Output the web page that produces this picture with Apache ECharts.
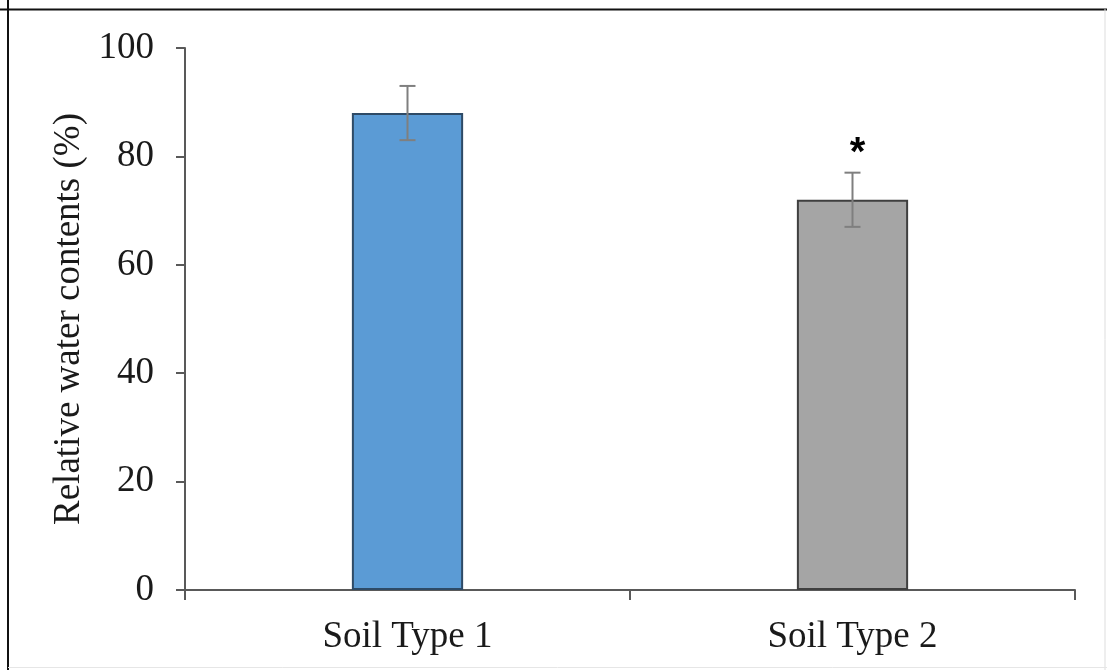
<!DOCTYPE html>
<html>
<head>
<meta charset="utf-8">
<script src="https://cdn.jsdelivr.net/npm/echarts@6/dist/echarts.min.js"></script>
<style>
  html, body { margin: 0; padding: 0; background: #ffffff; }
  #chart { width: 1107px; height: 670px; }
</style>
</head>
<body>
<div id="chart"></div>
<script>
// Soil categories and measured relative water content (mean ± error)
const categories = ['Soil Type 1', 'Soil Type 2'];
const meanValues = [88, 72];
const errorValues = [5, 5];
const significance = ['', '*'];
const yTicks = [0, 20, 40, 60, 80, 100];

const barColors = ['#5b9bd5', '#a5a5a5'];
const barBorders = ['#2e4a66', '#3f3f3f'];

const serif = '"Liberation Serif", "Times New Roman", serif';

const chart = echarts.init(document.getElementById('chart'), null, { renderer: 'canvas' });

const errorData = meanValues.map((v, i) => [i, v - errorValues[i], v + errorValues[i], significance[i]]);

chart.setOption({
  animation: false,
  backgroundColor: '#ffffff',
  grid: { left: 185, right: 32, top: 48, bottom: 80 },
  xAxis: {
    type: 'category',
    data: categories,
    boundaryGap: true,
    axisLine: { lineStyle: { color: '#595959', width: 2 } },
    axisTick: { show: true, length: 10, lineStyle: { color: '#595959', width: 2 } },
    axisLabel: { color: '#1a1a1a', fontFamily: serif, fontSize: 37, margin: 29 }
  },
  yAxis: {
    type: 'value',
    min: yTicks[0],
    max: yTicks[yTicks.length - 1],
    interval: yTicks[1] - yTicks[0],
    name: 'Relative water contents (%)',
    nameLocation: 'middle',
    nameGap: 96,
    nameTextStyle: { color: '#1a1a1a', fontFamily: serif, fontSize: 37 },
    axisLine: { show: true, lineStyle: { color: '#595959', width: 2 } },
    axisTick: { show: true, length: 9, lineStyle: { color: '#595959', width: 2 } },
    splitLine: { show: false },
    axisLabel: { color: '#1a1a1a', fontFamily: serif, fontSize: 37, margin: 31 }
  },
  series: [
    {
      type: 'bar',
      barWidth: '25%',
      data: meanValues.map((v, i) => ({
        value: v,
        itemStyle: { color: barColors[i], borderColor: barBorders[i], borderWidth: 2 }
      })),
      z: 2
    },
    {
      type: 'custom',
      data: errorData,
      z: 3,
      renderItem: function (params, api) {
        const idx = api.value(0);
        const lo = api.coord([idx, api.value(1)]);
        const hi = api.coord([idx, api.value(2)]);
        const cap = 8;
        const style = { stroke: '#7f7f7f', lineWidth: 2 };
        const children = [
          { type: 'line', shape: { x1: hi[0], y1: hi[1], x2: lo[0], y2: lo[1] }, style: style },
          { type: 'line', shape: { x1: hi[0] - cap, y1: hi[1], x2: hi[0] + cap, y2: hi[1] }, style: style },
          { type: 'line', shape: { x1: lo[0] - cap, y1: lo[1], x2: lo[0] + cap, y2: lo[1] }, style: style }
        ];
        const mark = errorData[params.dataIndex][3];
        if (mark) {
          children.push({
            type: 'text',
            style: {
              text: mark,
              x: hi[0] + 5,
              y: hi[1] + 1,
              align: 'center',
              verticalAlign: 'bottom',
              fill: '#000000',
              font: 'bold 40px "Liberation Sans", Arial, sans-serif'
            }
          });
        }
        return { type: 'group', children: children };
      }
    }
  ],
  graphic: [
    { type: 'line', shape: { x1: 8, y1: 0, x2: 8, y2: 670 }, style: { stroke: '#111111', lineWidth: 2 } },
    { type: 'line', shape: { x1: 0, y1: 9.5, x2: 1107, y2: 9.5 }, style: { stroke: '#111111', lineWidth: 2 } },
    { type: 'line', shape: { x1: 1105, y1: 9, x2: 1105, y2: 670 }, style: { stroke: '#dddddd', lineWidth: 1 } },
    { type: 'line', shape: { x1: 8, y1: 667.5, x2: 1107, y2: 667.5 }, style: { stroke: '#e6e6e6', lineWidth: 1 } }
  ]
});
</script>
</body>
</html>
